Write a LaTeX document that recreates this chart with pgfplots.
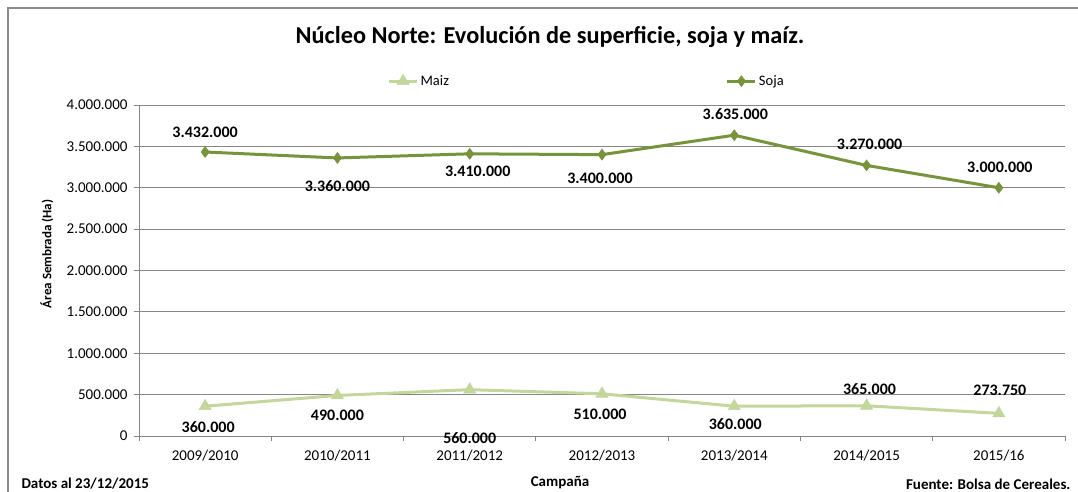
\documentclass[border=0pt]{standalone}
\usepackage{pgfplots}
\pgfplotsset{compat=1.18}
\usepackage{pgfplotstable}
\usepackage{fontspec}
\setmainfont{Carlito}
\definecolor{soja}{HTML}{77933C}
\definecolor{maiz}{HTML}{C3D69B}
\definecolor{gridc}{HTML}{868686}
\definecolor{framec}{HTML}{8C8C8C}

\pgfplotstableread{
x y lab dx dy
0 3432000 3.432.000 0 20
1 3360000 3.360.000 0 -28
2 3410000 3.410.000 8 -17
3 3400000 3.400.000 -2 -24
4 3635000 3.635.000 1 21
5 3270000 3.270.000 3 21
6 3000000 3.000.000 1 20
}\soja
\pgfplotstableread{
x y lab dx dy
0 360000 360.000 3 -21
1 490000 490.000 0 -20
2 560000 560.000 0 -48
3 510000 510.000 -2 -21
4 360000 360.000 1 -18
5 365000 365.000 3 17
6 273750 273.750 1 23
}\maiz

\begin{document}
\begin{tikzpicture}[x=1pt,y=1pt]
\path[use as bounding box] (0pt,0pt) rectangle (1078pt,492pt);
\node[font=\bfseries\fontsize{24.3}{28}\selectfont] at (550,455) {Núcleo Norte: Evolución de superficie, soja y maíz.};
\begin{axis}[
  at={(139pt,56pt)}, anchor=south west, scale only axis,
  width=926pt, height=331pt,
  xmin=-0.5, xmax=6.5, ymin=0, ymax=4000000,
  axis x line=bottom, axis y line=left,
  axis line style={-, gridc, line width=0.8pt},
  xtick={0,1,2,3,4,5,6},
  xticklabels={2009/2010,2010/2011,2011/2012,2012/2013,2013/2014,2014/2015,2015/16},
  minor xtick={-0.5,0.5,1.5,2.5,3.5,4.5,5.5,6.5},
  major x tick style={draw=none},
  minor x tick style={gridc, line width=0.8pt},
  minor tick length=5pt,
  ytick={0,500000,1000000,1500000,2000000,2500000,3000000,3500000,4000000},
  major y tick style={gridc, line width=0.8pt},
  major tick length=5pt,
  tick align=outside,
  ymajorgrids, grid style={gridc, line width=0.8pt},
  scaled y ticks=false,
  /pgf/number format/.cd, fixed, precision=0, 1000 sep={.}, assume math mode=true,
  /pgfplots/.cd,
  tick label style={font=\fontsize{15}{17}\selectfont, text=black},
  xticklabel style={yshift=-6pt},
  yticklabel style={xshift=-3pt},
  legend style={draw=none, fill=none, at={(0.265,1.072)}, anchor=west,
    font=\fontsize{14.5}{16}\selectfont,
    /tikz/every even column/.append style={column sep=275pt}},
  legend columns=2,
  legend image code/.code={\draw[mark repeat=2,mark phase=2] plot coordinates {(0pt,0pt)(14pt,0pt)(28pt,0pt)};},
  clip=false,
  nodes near coords,
  point meta=explicit symbolic,
  visualization depends on={\thisrow{dx} \as \dx},
  visualization depends on={\thisrow{dy} \as \dy},
  nodes near coords style={anchor=center, xshift=\dx, yshift=\dy, font=\bfseries\fontsize{16}{18}\selectfont, text=black},
]
\addplot[maiz, line width=3pt, mark=triangle*, mark size=7pt, mark options={solid, line width=0.5pt}] table[x=x,y=y,meta=lab] {\maiz};
\addlegendentry{Maiz}
\addplot[soja, line width=3pt, mark=diamond*, mark size=5.5pt, mark options={solid, line width=0.5pt}] table[x=x,y=y,meta=lab] {\soja};
\addlegendentry{Soja}
\draw[framec, line width=1.6pt] (rel axis cs:-0.1415,-0.25) -- (rel axis cs:-0.1415,1.293) -- (rel axis cs:1.03,1.293);
\end{axis}
\node[font=\bfseries\fontsize{13}{15}\selectfont, rotate=90] at (47,238) {Área Sembrada (Ha)};
\node[font=\bfseries\fontsize{15}{17}\selectfont] at (560,9) {Campaña};
\node[font=\bfseries\fontsize{15}{17}\selectfont, anchor=west] at (18,8) {Datos al 23/12/2015};
\node[font=\bfseries\fontsize{15}{17}\selectfont, anchor=east] at (1074,8) {Fuente: Bolsa de Cereales.};
\end{tikzpicture}
\end{document}
